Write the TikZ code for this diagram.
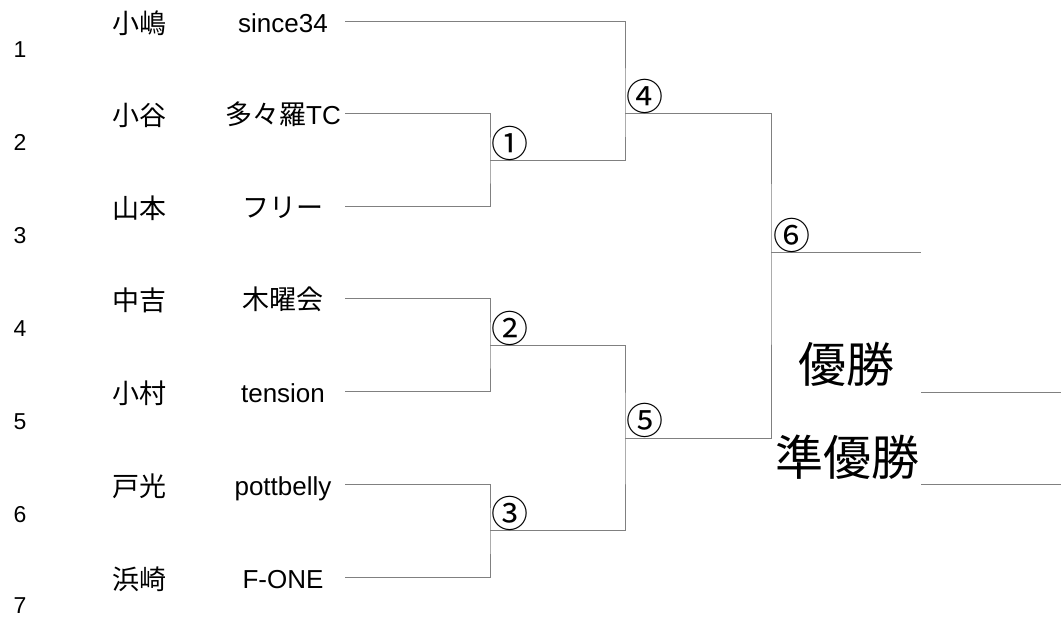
\documentclass[tikz,border=0pt]{standalone}
\usepackage{fontspec}
\setmainfont{Liberation Sans}
\newfontfamily\cjk{Noto Sans CJK JP}
\begin{document}
\begin{tikzpicture}[x=1pt,y=-1pt,
  bl/.style={draw=black!50, line width=1pt},
  seed/.style={inner sep=0pt, anchor=base, font=\fontsize{23}{23}\selectfont},
  pname/.style={inner sep=0pt, anchor=base, font=\cjk\fontsize{27}{27}\selectfont},
  team/.style={inner sep=0pt, anchor=base, font=\fontsize{26}{26}\selectfont},
  cjkteam/.style={inner sep=0pt, anchor=base, font=\cjk\fontsize{27}{27}\selectfont},
  mnum/.style={inner sep=0pt, anchor=center, font=\cjk\fontsize{37}{37}\selectfont},
  big/.style={inner sep=0pt, anchor=center, font=\cjk\fontsize{48}{48}\selectfont}]
\useasboundingbox (0,0) rectangle (1061,617);
% seeds
\node[seed] (s1) at (20,58) {1};
\node[seed] (s2) at (20,151) {2};
\node[seed] (s3) at (20,244) {3};
\node[seed] (s4) at (20,337) {4};
\node[seed] (s5) at (20,430) {5};
\node[seed] (s6) at (20,522) {6};
\node[seed] (s7) at (20,613) {7};
% player names
\node[pname] (p1) at (139,34) {小嶋};
\node[pname] (p2) at (139,126) {小谷};
\node[pname] (p3) at (139,219) {山本};
\node[pname] (p4) at (139,311) {中吉};
\node[pname] (p5) at (139,404) {小村};
\node[pname] (p6) at (139,497) {戸光};
\node[pname] (p7) at (139,589) {浜崎};
% teams
\node[team] (n1) at (283,33) {since34};
\node[team] (n2) at (283,125) {{\cjk\fontsize{27}{27}\selectfont 多々羅}TC};
\node[cjkteam] (n3) at (283,218) {フリー};
\node[cjkteam] (n4) at (283,310) {木曜会};
\node[team] (n5) at (283,403) {tension};
\node[team] (n6) at (283,496) {pottbelly};
\node[team] (n7) at (283,588) {F-ONE};
% line starts
\coordinate (t1) at (345,22);
\coordinate (t2) at (345,114);
\coordinate (t3) at (345,207);
\coordinate (t4) at (345,299);
\coordinate (t5) at (345,392);
\coordinate (t6) at (345,485);
\coordinate (t7) at (345,577);
% match points
\coordinate (m1) at (490,161);
\coordinate (m2) at (490,346);
\coordinate (m3) at (490,531);
\coordinate (m4) at (625,114);
\coordinate (m5) at (625,439);
\coordinate (m6) at (771,253);
\coordinate (fin) at (921,253);
\coordinate (w1) at (921,393);
\coordinate (w1e) at (1061,393);
\coordinate (w2) at (921,485);
\coordinate (w2e) at (1061,485);
% bracket
\draw[bl] (t2) -| (m1) |- (t3);
\draw[bl] (t4) -| (m2) |- (t5);
\draw[bl] (t6) -| (m3) |- (t7);
\draw[bl] (t1) -| (m4) |- (m1);
\draw[bl] (m2) -| (m5) |- (m3);
\draw[bl] (m4) -| (m6) |- (m5);
\draw[bl] (m6) -- (fin);
\draw[bl] (w1) -- (w1e);
\draw[bl] (w2) -- (w2e);
% match numbers
\node[mnum] (c1) at (510,143) {①};
\node[mnum] (c2) at (510,328) {②};
\node[mnum] (c3) at (510,513) {③};
\node[mnum] (c4) at (645,96) {④};
\node[mnum] (c5) at (645,420) {⑤};
\node[mnum] (c6) at (792,235) {⑥};
% results
\node[big] (win) at (846,364) {優勝};
\node[big] (run) at (847,457) {準優勝};
\end{tikzpicture}
\end{document}
